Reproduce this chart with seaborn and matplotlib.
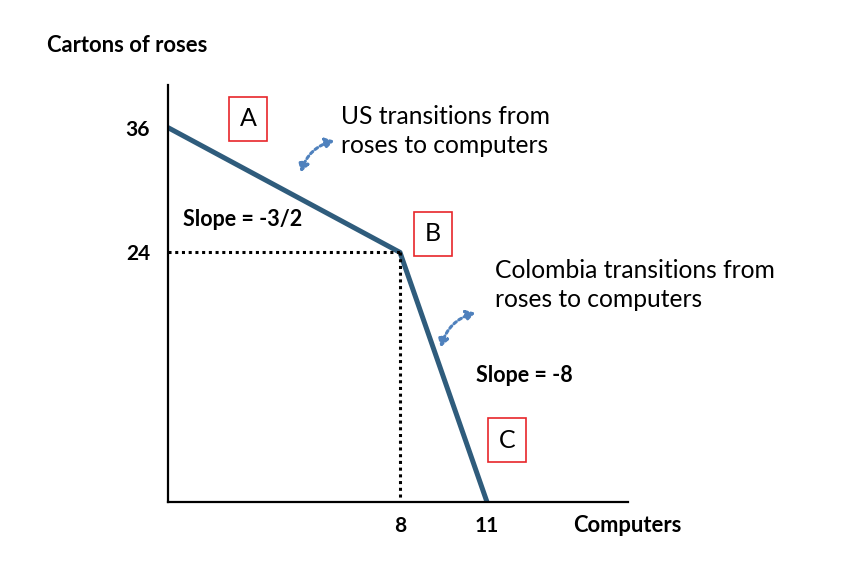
import matplotlib
matplotlib.use("Agg")
import matplotlib.pyplot as plt
import seaborn as sns
import pandas as pd
from matplotlib.patches import FancyArrowPatch

computers = [0, 8, 11]
roses = [36, 24, 0]
point_labels = ["A", "B", "C"]
x_ticks = [8, 11]
y_ticks = [24, 36]

sns.set_theme(style="white")
plt.rcParams['font.family'] = ['Lato', 'DejaVu Sans']
plt.rcParams['text.color'] = 'black'
plt.rcParams['xtick.color'] = 'black'
plt.rcParams['ytick.color'] = 'black'

W, H = 854, 584
fig = plt.figure(figsize=(W / 100, H / 100), dpi=100)
L, R, T, B = 168, 628, 85, 502
ax = fig.add_axes([L / W, 1 - B / H, (R - L) / W, (B - T) / H])

df = pd.DataFrame({"Computers": computers, "Roses": roses})
sns.lineplot(data=df, x="Computers", y="Roses", ax=ax, color="#2F5C7C",
             linewidth=3.6, solid_capstyle="butt", sort=False)

ax.set_xlim(0, (R - L) / 29.0)
ax.set_ylim(0, (B - T) / 10.4)

# dotted guide lines
ax.plot([0, computers[1]], [roses[1], roses[1]], color="black", linestyle=(0, (1, 1.2)), linewidth=2.2)
ax.plot([computers[1], computers[1]], [roses[1], 0], color="black", linestyle=(0, (1, 1.2)), linewidth=2.2)

for s in ["top", "right"]:
    ax.spines[s].set_visible(False)
for s in ["left", "bottom"]:
    ax.spines[s].set_color("black")
    ax.spines[s].set_linewidth(1.6)

ax.set_xticks(x_ticks)
ax.set_yticks(y_ticks)
ax.set_xticklabels([str(v) for v in x_ticks], fontsize=15, fontweight="bold")
ax.set_yticklabels([str(v) for v in y_ticks], fontsize=15, fontweight="bold")
ax.tick_params(axis="x", length=0, pad=10)
ax.tick_params(axis="y", length=0, pad=13)
ax.set_xlabel("")
ax.set_ylabel("")
ax.grid(False)

def px(x, y):
    return x / W, 1 - y / H

fig.text(*px(47, 46), "Cartons of roses", fontsize=15.8, fontweight="bold", va="center", ha="left")
fig.text(*px(573, 526), "Computers", fontsize=15.8, fontweight="bold", va="center", ha="left")
fig.text(*px(183, 219), "Slope = -3/2", fontsize=15.5, fontweight="bold", va="center", ha="left")
fig.text(*px(476, 375), "Slope = -8", fontsize=15.5, fontweight="bold", va="center", ha="left")
fig.text(*px(341, 131), "US transitions from\nroses to computers", fontsize=17.7, va="center", ha="left", linespacing=1.3)
fig.text(*px(495, 285), "Colombia transitions from\nroses to computers", fontsize=17.7, va="center", ha="left", linespacing=1.3)

boxes = [(248, 119), (433, 234), (507, 440)]
for (bx, by), lab in zip(boxes, point_labels):
    fig.text(*px(bx, by), lab, fontsize=18, va="center", ha="center",
             bbox=dict(boxstyle="square,pad=0.42", facecolor="white", edgecolor="#E8262A", linewidth=1.2))

for (x1, y1), (x2, y2), rad in [((300, 175), (337, 140), -0.3), ((440, 350), (478, 312), -0.3)]:
    a = FancyArrowPatch(px(x1, y1), px(x2, y2), connectionstyle=f"arc3,rad={rad}",
                        arrowstyle="<|-|>,head_length=5,head_width=3", color="#4F81BD",
                        linestyle=(0, (1, 1)), linewidth=2.2, transform=fig.transFigure)
    fig.patches.append(a)

fig.savefig("out.png", dpi=100, facecolor="white")
